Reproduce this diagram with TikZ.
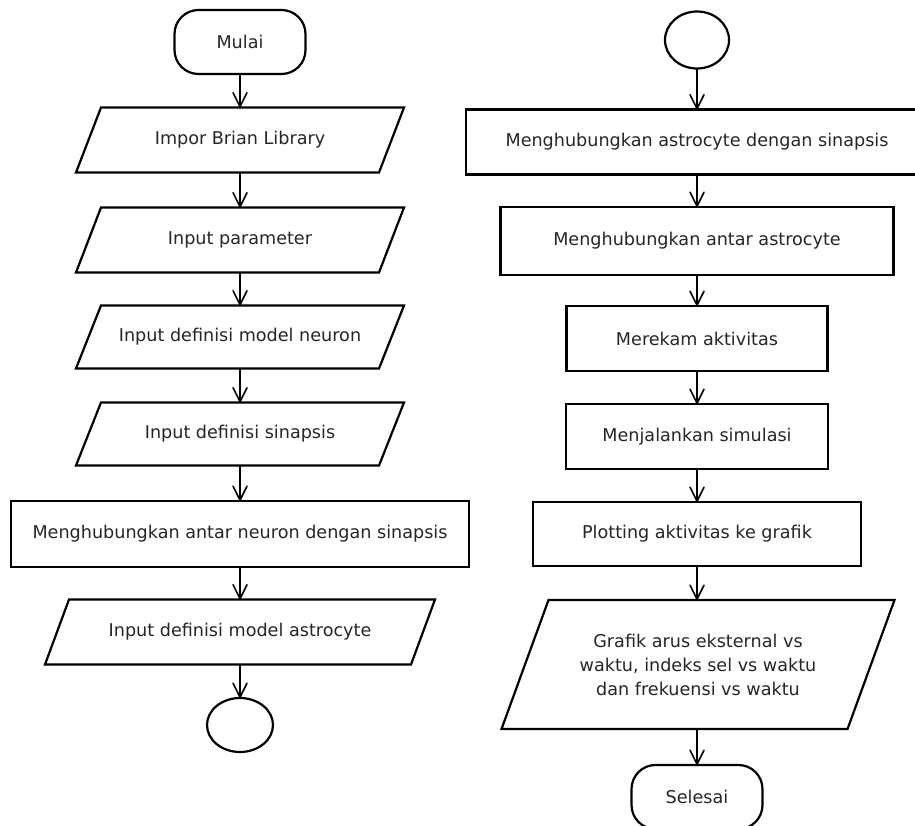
\documentclass[tikz,border=0pt]{standalone}
\usepackage{fontspec}
\setmainfont{DejaVu Sans}
\usetikzlibrary{shapes.geometric,arrows.meta,calc}
\newcommand{\drawio}[2]{\draw[shapeline] ($(#1.north west)+(#2,0)$) -- (#1.north east) -- ($(#1.south east)-(#2,0)$) -- (#1.south west) -- cycle;}
\begin{document}
\begin{tikzpicture}[x=1pt,y=-1pt,
  font=\fontsize{17.6}{24}\selectfont, text=black!85,
  every node/.style={outer sep=0pt, inner sep=0pt, align=center},
  shapeline/.style={draw=black, line width=2.2pt, line join=miter},
  procbox/.style 2 args={shapeline, rectangle, minimum width=#1, minimum height=#2},
  iotext/.style 2 args={rectangle, minimum width=#1, minimum height=#2},
  termbox/.style={shapeline, rectangle, rounded corners=24pt, minimum width=131pt, minimum height=64pt},
  connbox/.style 2 args={shapeline, ellipse, minimum width=#1, minimum height=#2},
  arr/.style={draw=black, line width=1.8pt, -{Straight Barb[length=14pt,width=14pt,line width=1.6pt,round]}}
]
\useasboundingbox (0,0) rectangle (915,825);
\fill[white] (0,0) rectangle (915,825);
\clip (0,0) rectangle (915,825);

% ---------- left column ----------
\node[termbox] (mulai) at (240,42) {Mulai};
\node[iotext={328pt}{65pt}] (impor) at (240,140) {Impor Brian Library};
\drawio{impor}{25}
\node[iotext={328pt}{65pt}] (param) at (240,240) {Input parameter};
\drawio{param}{25}
\node[iotext={328pt}{63pt}] (neuron) at (240,337) {Input definisi model neuron};
\drawio{neuron}{25}
\node[iotext={328pt}{63pt}] (sinap) at (240,434) {Input definisi sinapsis};
\drawio{sinap}{25}
\node[procbox={458pt}{66pt}] (hubneuron) at (240,534) {Menghubungkan antar neuron dengan sinapsis};
\node[iotext={390pt}{65pt}] (astro) at (240,632) {Input definisi model astrocyte};
\drawio{astro}{24}
\node[connbox={66pt}{54pt}] (connA) at (240,725) {};

\draw[arr] (mulai.south) -- (impor.north);
\draw[arr] (impor.south) -- (param.north);
\draw[arr] (param.south) -- (neuron.north);
\draw[arr] (neuron.south) -- (sinap.north);
\draw[arr] (sinap.south) -- (hubneuron.north);
\draw[arr] (hubneuron.south) -- (astro.north);
\draw[arr] (astro.south) -- (connA.north);

% ---------- right column ----------
\node[connbox={64pt}{57pt}] (connB) at (697,40) {};
\node[procbox={462pt}{65pt}] (hubsin) at (697,142) {Menghubungkan astrocyte dengan sinapsis};
\node[procbox={393pt}{68pt}] (hubastro) at (697,241) {Menghubungkan antar astrocyte};
\node[procbox={261pt}{65pt}] (rekam) at (697,338.5) {Merekam aktivitas};
\node[procbox={262pt}{65pt}] (simul) at (697,436.5) {Menjalankan simulasi};
\node[procbox={328pt}{64pt}] (plot) at (697,534) {Plotting aktivitas ke grafik};
\node[iotext={393pt}{129pt}] (grafik) at (698,664.5) {Grafik arus eksternal vs\\waktu, indeks sel vs waktu\\dan frekuensi vs waktu};
\drawio{grafik}{47}
\node[termbox] (selesai) at (697,797) {Selesai};

\draw[arr] (connB.south) -- (hubsin.north);
\draw[arr] (hubsin.south) -- (hubastro.north);
\draw[arr] (hubastro.south) -- (rekam.north);
\draw[arr] (rekam.south) -- (simul.north);
\draw[arr] (simul.south) -- (plot.north);
\draw[arr] (plot.south) -- (grafik.north -| plot.south);
\draw[arr] (grafik.south -| plot.south) -- (selesai.north);
\end{tikzpicture}
\end{document}
